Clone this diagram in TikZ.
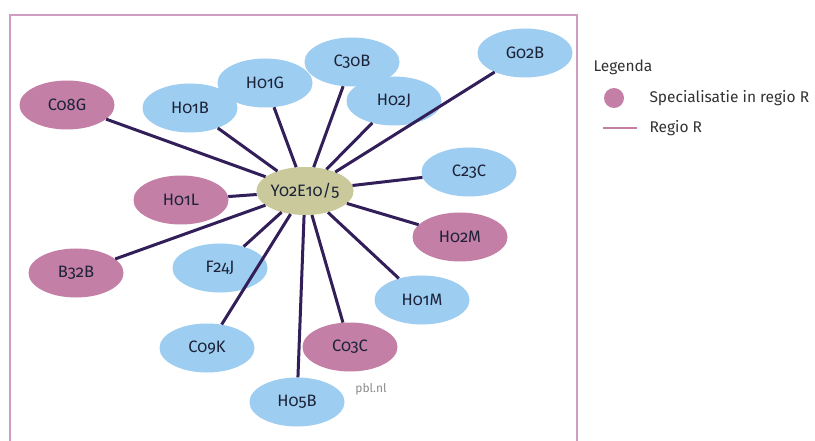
\documentclass[tikz,border=0pt]{standalone}
\usepackage{fontspec}
\setmainfont[Numbers=OldStyle]{Fira Sans}
\usetikzlibrary{shapes.geometric}

\definecolor{specpink}{HTML}{C47FA6}
\definecolor{techblue}{HTML}{9DCDF0}
\definecolor{coreolive}{HTML}{C9C99B}
\definecolor{linkpurple}{HTML}{321E58}
\definecolor{framepink}{HTML}{D09CC0}
\definecolor{ink}{HTML}{1C2238}

\begin{document}
\begin{tikzpicture}[x=1pt,y=-1pt,
  tech/.style={ellipse,minimum width=95pt,minimum height=49pt,inner sep=0pt,
    text=ink,font=\fontsize{16.5}{18}\selectfont},
  other/.style={tech,fill=techblue},
  spec/.style={tech,fill=specpink},
  core/.style={tech,fill=coreolive,minimum width=91pt,minimum height=48pt},
  link/.style={draw=linkpurple,line width=3pt},
  legtext/.style={anchor=west,text=black!80,font=\fontsize{15.5}{17}\selectfont}]
\fill[white] (0,0) rectangle (815,441);
\useasboundingbox (0,0) rectangle (815,441);

% frame round the network
\draw[framepink,line width=2pt] (10,441) |- (577,15) -- (577,441);

\node[core]  (Y02E10)  at (305,191) {Y02E10/5};
\node[spec]  (C08G)    at (67,105)  {C08G};
\node[other] (H01B)    at (190,108) {H01B};
\node[other] (H01G)    at (265,83)  {H01G};
\node[other] (C30B)    at (352,62)  {C30B};
\node[other] (H02J)    at (394,101) {H02J};
\node[other] (G02B)    at (525,53)  {G02B};
\node[spec]  (H01L)    at (181,200) {H01L};
\node[other] (C23C)    at (469,172) {C23C};
\node[spec]  (H02M)    at (460,237) {H02M};
\node[spec]  (B32B)    at (76,273)  {B32B};
\node[other] (F24J)    at (220,268) {F24J};
\node[other] (H01M)    at (422,300) {H01M};
\node[other] (C09K)    at (207,348) {C09K};
\node[spec]  (C03C)    at (350,347) {C03C};
\node[other] (H05B)    at (297,402) {H05B};
\node[text=black!45,font=\fontsize{12}{14}\selectfont] (pbl) at (371,389) {pbl.nl};

\path[link] (Y02E10) edge (C08G)
   (Y02E10) edge (H01B)
   (Y02E10) edge (H01G)
   (Y02E10) edge (C30B)
   (Y02E10) edge (H02J)
   (Y02E10) edge (G02B)
   (Y02E10) edge (H01L)
   (Y02E10) edge (C23C)
   (Y02E10) edge (H02M)
   (Y02E10) edge (B32B)
   (Y02E10) edge (F24J)
   (Y02E10) edge (H01M)
   (Y02E10) edge (C09K)
   (Y02E10) edge (C03C)
   (Y02E10) edge (H05B);

% legend
\node[legtext] (legtitle) at (590,67) {Legenda};
\node[circle,fill=specpink,minimum size=20pt,inner sep=0pt] (legdot) at (614,98) {};
\node[legtext] (legspec) at (646,98) {Specialisatie in regio R};
\coordinate (legA) at (603,128);
\coordinate (legB) at (637,128);
\draw[specpink,line width=2pt] (legA) -- (legB);
\node[legtext] (legreg) at (646,128) {Regio R};
\end{tikzpicture}
\end{document}
